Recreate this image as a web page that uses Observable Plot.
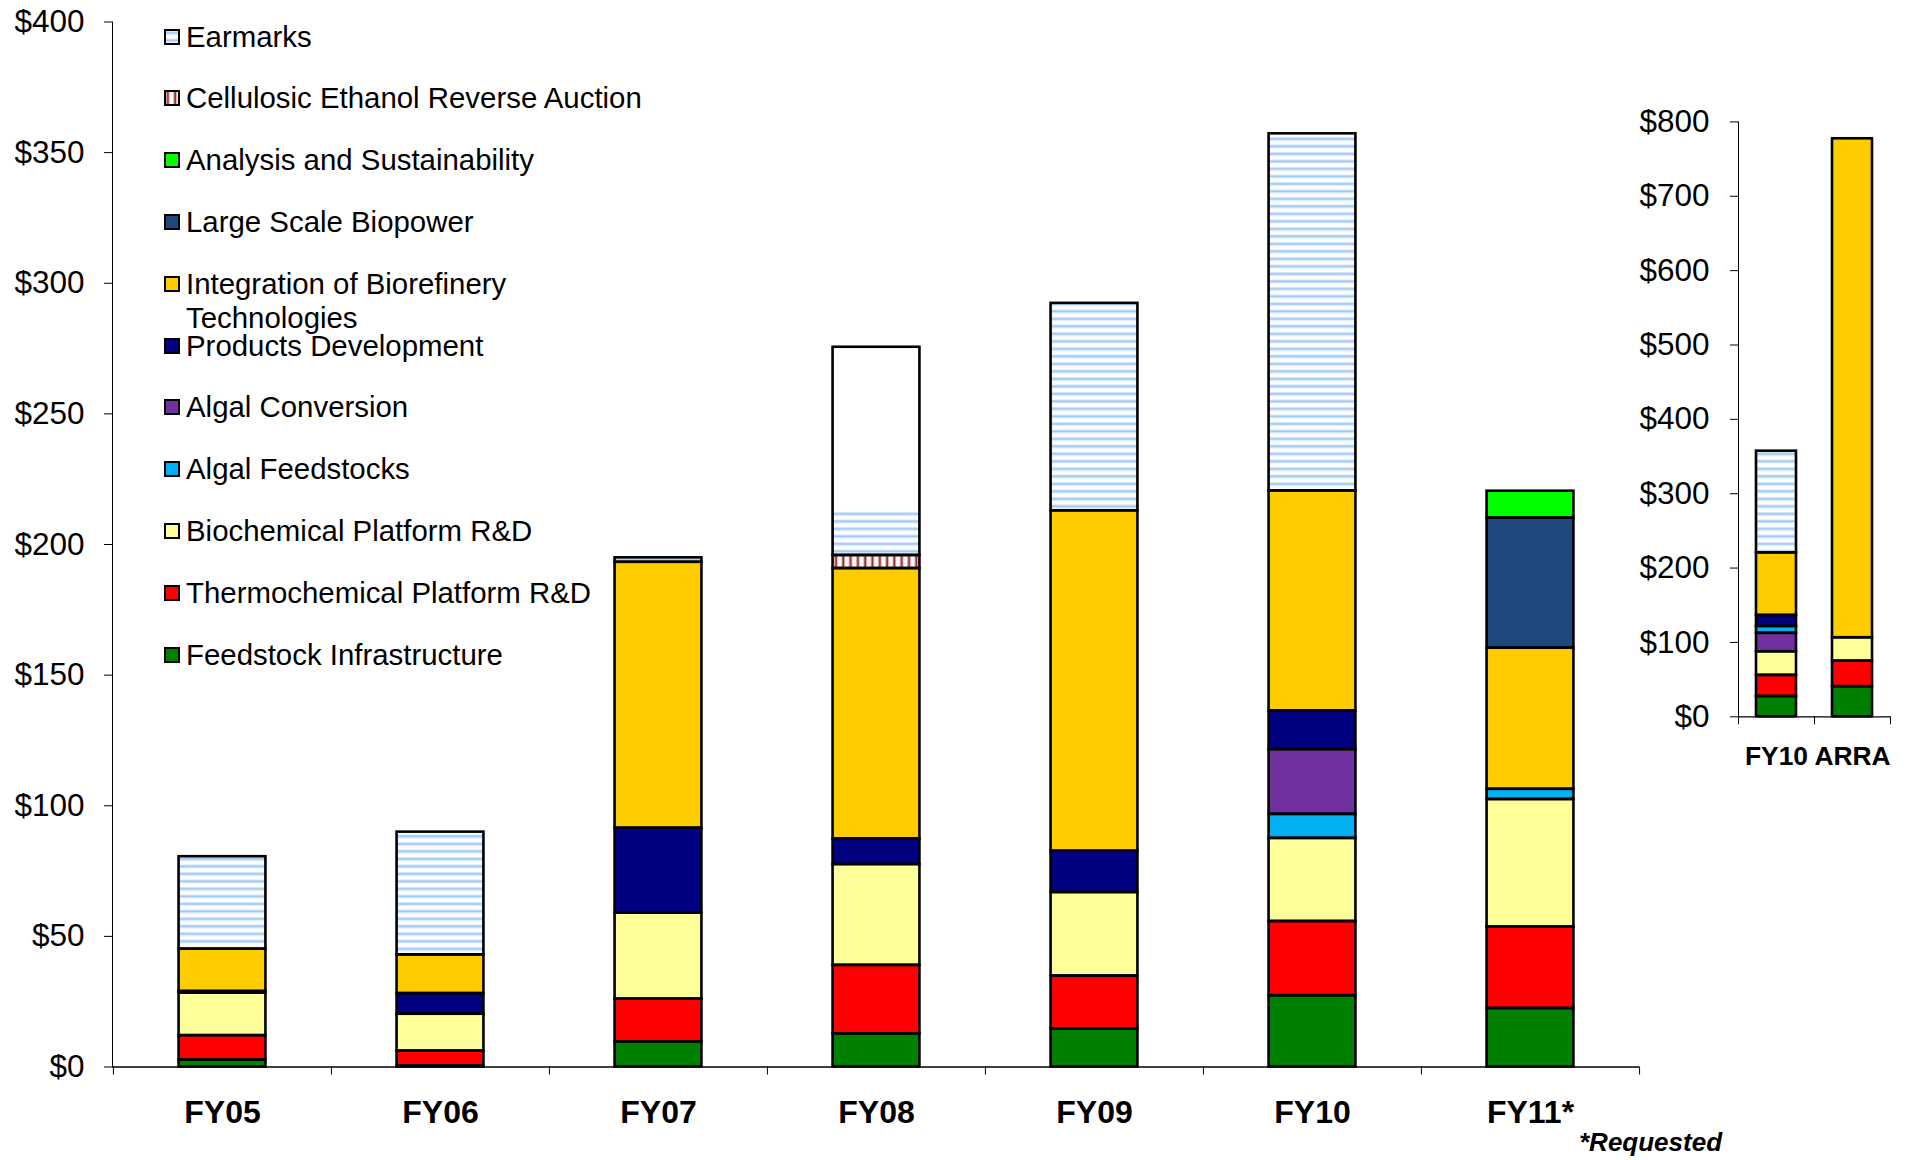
<!DOCTYPE html>
<html>
<head>
<meta charset="utf-8">
<script src="https://cdn.jsdelivr.net/npm/d3@7"></script>
<script src="https://cdn.jsdelivr.net/npm/@observablehq/plot@0.6"></script>
<style>
  html, body { margin: 0; padding: 0; background: #fff; }
  body { width: 1907px; height: 1160px; position: relative; overflow: hidden;
         font-family: "Liberation Sans", Arial, Helvetica, sans-serif; color: #000; }
  #main, #inset { position: absolute; top: 0; }
  #main { left: 0; }
  #inset { left: 1580px; }
  #legend { position: absolute; left: 164px; top: 0; }
  .item { position: absolute; left: 0; display: flex; align-items: flex-start;
          font-size: 29.4px; line-height: 34px; white-space: pre; }
  .item svg { flex: none; margin-top: 9px; margin-right: 6px; }
  #note { position: absolute; left: 1579px; top: 1127px; font-size: 26px; line-height: 30px;
          font-weight: bold; font-style: italic; }
</style>
</head>
<body>
<svg width="0" height="0" style="position:absolute;left:0;top:0">
  <defs>
    <pattern id="pat-earmarks" patternUnits="userSpaceOnUse" width="8" height="7.5">
      <rect width="8" height="7.5" fill="#fff"/>
      <rect y="2" width="8" height="1" fill="#d4e7fb"/>
      <rect y="3" width="8" height="2" fill="#9fc7f3"/>
      <rect y="5" width="8" height="1" fill="#d4e7fb"/>
    </pattern>
    <pattern id="pat-auction" patternUnits="userSpaceOnUse" width="7.3" height="8">
      <rect width="7.3" height="8" fill="#fff"/>
      <rect x="2" width="1" height="8" fill="#d9a0a0"/>
      <rect x="3" width="1.6" height="8" fill="#962525"/>
      <rect x="4.6" width="1" height="8" fill="#d9a0a0"/>
    </pattern>
  </defs>
</svg>
<div id="main"></div>
<div id="inset"></div>
<div id="legend"></div>
<div id="note">*Requested</div>
<script>
// ---------- data (US$ millions) ----------
const categories = ["FY05", "FY06", "FY07", "FY08", "FY09", "FY10", "FY11*"];

const seriesNames = [
  "Feedstock Infrastructure",
  "Thermochemical Platform R&D",
  "Biochemical Platform R&D",
  "Algal Feedstocks",
  "Algal Conversion",
  "Products Development",
  "Integration of Biorefinery\nTechnologies",
  "Large Scale Biopower",
  "Analysis and Sustainability",
  "Cellulosic Ethanol Reverse Auction",
  "Earmarks"
];
const seriesFills = [
  "#008000", "#FF0000", "#FFFF99", "#00B0F0", "#7030A0", "#000080",
  "#FFCC00", "#1F497D", "#00FF00", "url(#pat-auction)", "url(#pat-earmarks)"
];

const feedstock       = [2.7, 0.4, 9.6, 12.7, 14.6, 27.3, 22.4];
const thermochemical  = [9.3, 5.7, 16.4, 26.2, 20.2, 28.4, 31.2];
const biochemical     = [16.3, 14.1, 32.9, 38.6, 32.0, 31.8, 48.8];
const algalFeedstocks = [0, 0, 0, 0, 0, 9.2, 3.9];
const algalConversion = [0, 0, 0, 0, 0, 24.8, 0];
const productsDev     = [0.6, 7.9, 32.5, 9.8, 15.8, 14.8, 0];
const integration     = [16.2, 14.8, 101.8, 103.5, 130.3, 84.2, 54.0];
const biopower        = [0, 0, 0, 0, 0, 0, 49.8];
const analysis        = [0, 0, 0, 0, 0, 0, 10.3];
const auction         = [0, 0, 0, 5.0, 0, 0, 0];
const earmarks        = [35.4, 47.0, 1.7, 79.7, 79.4, 136.7, 0];
// part of each earmark segment that shows the hatching (FY08 hatching stops partway up)
const earmarksHatched = [35.4, 47.0, 1.7, 16.8, 79.4, 136.7, 0];

const mainSeries = [feedstock, thermochemical, biochemical, algalFeedstocks, algalConversion,
                    productsDev, integration, biopower, analysis, auction, earmarks];

// inset: FY10 vs ARRA (values in seriesNames order)
const insetCategories = ["FY10", "ARRA"];
const arraValues = [40.5, 34.3, 31.5, 0, 0, 0, 671.0, 0, 0, 0, 0];
const insetOrder = [0, 1, 2, 4, 3, 5, 6, 7, 8, 9, 10]; // algal conversion sits below algal feedstocks

const mainTicks = [0, 50, 100, 150, 200, 250, 300, 350, 400];
const insetTicks = [0, 100, 200, 300, 400, 500, 600, 700, 800];

// ---------- helpers ----------
const FONT = '"Liberation Sans", Arial, Helvetica, sans-serif';
const EAR = seriesNames.length - 1;

function stackRows(cats, valueOf, order, hatchedOf) {
  const fills = [], outlines = [];
  cats.forEach((cat, ci) => {
    let base = 0;
    for (const s of order) {
      const v = valueOf(s, ci);
      if (!(v > 0)) continue;
      const y1 = base, y2 = base + v;
      if (s === EAR) {
        const h = hatchedOf ? hatchedOf(ci) : v;
        fills.push({cat, y1, y2, s, fill: "#fff"});
        fills.push({cat, y1, y2: y1 + h, s, fill: seriesFills[s]});
      } else {
        fills.push({cat, y1, y2, s, fill: seriesFills[s]});
      }
      outlines.push({cat, y1, y2});
      base = y2;
    }
  });
  return {fills, outlines};
}

function barMarks(rows, inset) {
  const fillKeys = Array.from(new Set(rows.fills.map(d => d.fill)));
  return [
    ...fillKeys.map(f => Plot.barY(rows.fills.filter(d => d.fill === f), {
      x: "cat", y1: "y1", y2: "y2", fill: f, insetLeft: inset, insetRight: inset
    })),
    Plot.barY(rows.outlines, {
      x: "cat", y1: "y1", y2: "y2", fill: "none", stroke: "#000", strokeWidth: 2.6,
      insetLeft: inset, insetRight: inset
    })
  ];
}

// ---------- main chart ----------
{
  const W = 1700, H = 1160, ML = 112, MR = 61, MT = 21.5, MB = 93.5;
  const step = (W - ML - MR) / categories.length;
  const barInset = (step - 87) / 2;
  const rows = stackRows(categories, (s, ci) => mainSeries[s][ci],
                         d3.range(seriesNames.length), ci => earmarksHatched[ci]);
  const chart = Plot.plot({
    width: W, height: H, marginLeft: ML, marginRight: MR, marginTop: MT, marginBottom: MB,
    style: {fontFamily: FONT, fontSize: "31.5px", color: "#000", background: "transparent", overflow: "visible"},
    x: {domain: categories, padding: 0},
    y: {domain: [0, 400], ticks: mainTicks, tickFormat: d => "$" + d, tickSize: 8, tickPadding: 20, line: true, label: null},
    marks: [
      ...barMarks(rows, barInset),
      Plot.ruleY([0], {stroke: "#000", strokeWidth: 1.3}),
      Plot.axisX({tickSize: 0, tickPadding: 33, fontWeight: "bold", fontSize: 32, label: null}),
      Plot.axisX({tickSize: 8, tickFormat: () => "", dx: -step / 2, label: null}),
      Plot.axisX({ticks: [categories[categories.length - 1]], tickSize: 8, tickFormat: () => "", dx: step / 2, label: null})
    ]
  });
  document.getElementById("main").appendChild(chart);
}

// ---------- inset chart ----------
{
  const W = 327, H = 800, ML = 158, MR = 17, MT = 121.4, MB = 83.7;
  const step = (W - ML - MR) / insetCategories.length;
  const barInset = (step - 40) / 2;
  const fy10 = categories.indexOf("FY10");
  const rows = stackRows(insetCategories,
    (s, ci) => ci === 0 ? mainSeries[s][fy10] : arraValues[s],
    insetOrder, ci => ci === 0 ? earmarksHatched[fy10] : arraValues[EAR]);
  const chart = Plot.plot({
    width: W, height: H, marginLeft: ML, marginRight: MR, marginTop: MT, marginBottom: MB,
    style: {fontFamily: FONT, fontSize: "31.5px", color: "#000", background: "transparent", overflow: "visible"},
    x: {domain: insetCategories, padding: 0},
    y: {domain: [0, 800], ticks: insetTicks, tickFormat: d => "$" + d, tickSize: 8, tickPadding: 21, line: true, label: null},
    marks: [
      ...barMarks(rows, barInset),
      Plot.ruleY([0], {stroke: "#000", strokeWidth: 1.3}),
      Plot.axisX({tickSize: 0, tickPadding: 29, fontWeight: "bold", fontSize: 26.4, label: null}),
      Plot.axisX({tickSize: 8, tickFormat: () => "", dx: -step / 2, label: null}),
      Plot.axisX({ticks: [insetCategories[insetCategories.length - 1]], tickSize: 8, tickFormat: () => "", dx: step / 2, label: null})
    ]
  });
  document.getElementById("inset").appendChild(chart);
}

// ---------- legend ----------
{
  const legend = document.getElementById("legend");
  const order = d3.range(seriesNames.length).reverse();
  order.forEach((s, i) => {
    const item = document.createElement("div");
    item.className = "item";
    item.style.top = (36.5 + i * 61.8 - 17) + "px";
    const svg = d3.create("svg").attr("width", 16).attr("height", 16);
    svg.append("rect").attr("x", 1).attr("y", 1).attr("width", 14).attr("height", 14)
      .attr("fill", seriesFills[s]).attr("stroke", "#000").attr("stroke-width", 2);
    item.appendChild(svg.node());
    const span = document.createElement("span");
    span.textContent = seriesNames[s];
    item.appendChild(span);
    legend.appendChild(item);
  });
}
</script>
</body>
</html>
